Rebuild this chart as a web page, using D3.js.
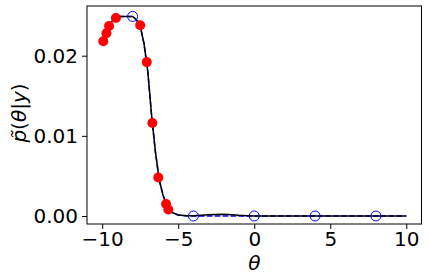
<!DOCTYPE html>
<html>
<head>
<meta charset="utf-8">
<script src="https://cdn.jsdelivr.net/npm/d3@7"></script>
<style>
 body { margin: 0; background: #fff; }
 text { font-family: "DejaVu Sans", sans-serif; }
</style>
</head>
<body>
<div id="chart"></div>
<script>
// curve (black solid) and reference (blue dashed)
var gridX = [-10, -9.75, -9.5, -9.25, -9, -8.5, -8, -7.75, -7.5, -7.25, -7, -6.75, -6.5, -6.25, -6, -5.75, -5.5, -5, -4.5, -4, -3.5, -3, -2.5, -2, -1.5, -1, -0.5, 0, 1, 2, 3, 4, 5, 6, 7, 8, 9, 10];
var curveY = [0.0217, 0.0229, 0.0239, 0.0246, 0.0249, 0.0249, 0.0249, 0.0245, 0.0237, 0.0215, 0.0180, 0.0125, 0.0080, 0.0045, 0.0026, 0.0013, 0.0005, 0.00012, 0.00004, 0.00002, 0.00008, 0.00015, 0.0002, 0.00022, 0.00016, 0.00008, 0.00003, 0, 0, 0, 0, 0, 0, 0, 0, 0, 0, 0];
var refY   = [0.0217, 0.0229, 0.0239, 0.0246, 0.0249, 0.0249, 0.0249, 0.0245, 0.0237, 0.0215, 0.0180, 0.0125, 0.0080, 0.0045, 0.0026, 0.0013, 0.0005, 0.00012, 0.00004, 0, 0, 0, 0, 0, 0, 0, 0, 0, 0, 0, 0, 0, 0, 0, 0, 0, 0, 0];

// samples (red filled)
var sampleX = [-9.93, -9.72, -9.55, -9.1, -7.5, -7.07, -6.7, -6.31, -5.8, -5.65];
var sampleY = [0.0218, 0.0228, 0.0237, 0.0247, 0.0238, 0.0192, 0.0116, 0.0048, 0.0015, 0.0008];

// design points (blue open)
var designX = [-8, -4, 0, 4, 8];
var designY = [0.0249, 0, 0, 0, 0];

var xTicks = [-10, -5, 0, 5, 10];
var yTicks = [0, 0.01, 0.02];

function drawChart() {
    var W = 428, H = 280;
    var padL = 87, padR = 421.5, padT = 6, padB = 224;
    var fs = 20;

    var svg = d3.select("#chart").append("svg")
        .attr("width", W)
        .attr("height", H);

    var x = d3.scaleLinear().domain([-11, 11]).range([padL, padR]);
    var y = d3.scaleLinear().domain([-0.001, 0.0262]).range([padB, padT]);

    // axes
    var xAxis = svg.append("g")
        .attr("transform", "translate(0," + padB + ")")
        .call(d3.axisBottom(x).tickValues(xTicks).tickSize(5).tickPadding(3)
            .tickFormat(function(d) { return d < 0 ? "\u2212" + Math.abs(d) : d; }));
    var yAxis = svg.append("g")
        .attr("transform", "translate(" + padL + ",0)")
        .call(d3.axisLeft(y).tickValues(yTicks).tickSize(5).tickPadding(4)
            .tickFormat(d3.format(".2f")));

    [xAxis, yAxis].forEach(function(g) {
        g.select(".domain").remove();
        g.selectAll("line").attr("stroke", "#000").attr("stroke-width", 1);
        g.selectAll("text").attr("font-size", fs).attr("fill", "#000")
            .attr("font-family", "DejaVu Sans");
    });

    // lines
    var line = d3.line()
        .x(function(d) { return x(d[0]); })
        .y(function(d) { return y(d[1]); });

    var refPts = gridX.map(function(v, i) { return [v, refY[i]]; });
    var curvePts = gridX.map(function(v, i) { return [v, curveY[i]]; });

    svg.append("path")
        .datum(refPts)
        .attr("d", line)
        .attr("fill", "none")
        .attr("stroke", "#0000ff")
        .attr("stroke-width", 1.5)
        .attr("stroke-dasharray", "5.5,2.4");

    svg.append("path")
        .datum(curvePts)
        .attr("d", line)
        .attr("fill", "none")
        .attr("stroke", "#000")
        .attr("stroke-width", 1.5);

    // markers
    svg.selectAll(".sample")
        .data(sampleX)
        .enter().append("circle")
        .attr("class", "sample")
        .attr("cx", function(d) { return x(d); })
        .attr("cy", function(d, i) { return y(sampleY[i]); })
        .attr("r", 5)
        .attr("fill", "#ff0000");

    svg.selectAll(".design")
        .data(designX)
        .enter().append("circle")
        .attr("class", "design")
        .attr("cx", function(d) { return x(d); })
        .attr("cy", function(d, i) { return y(designY[i]); })
        .attr("r", 5)
        .attr("fill", "none")
        .attr("stroke", "#0000ff")
        .attr("stroke-width", 1);

    // frame
    svg.append("rect")
        .attr("x", padL).attr("y", padT)
        .attr("width", padR - padL).attr("height", padB - padT)
        .attr("fill", "none")
        .attr("stroke", "#000")
        .attr("stroke-width", 1);

    // labels
    svg.append("text")
        .attr("x", (padL + padR) / 2)
        .attr("y", 270)
        .attr("text-anchor", "middle")
        .attr("font-size", fs)
        .attr("font-family", "DejaVu Sans")
        .attr("font-style", "italic")
        .text("\u03b8");

    var yl = svg.append("text")
        .attr("transform", "translate(26," + 113 + ") rotate(-90)")
        .attr("text-anchor", "middle")
        .attr("font-size", fs)
        .attr("font-family", "DejaVu Sans");
    yl.append("tspan").attr("font-style", "italic").text("p\u0303");
    yl.append("tspan").text("(");
    yl.append("tspan").attr("font-style", "italic").text("\u03b8");
    yl.append("tspan").text("|");
    yl.append("tspan").attr("font-style", "italic").text("y");
    yl.append("tspan").text(")");
}

drawChart();
</script>
</body>
</html>
